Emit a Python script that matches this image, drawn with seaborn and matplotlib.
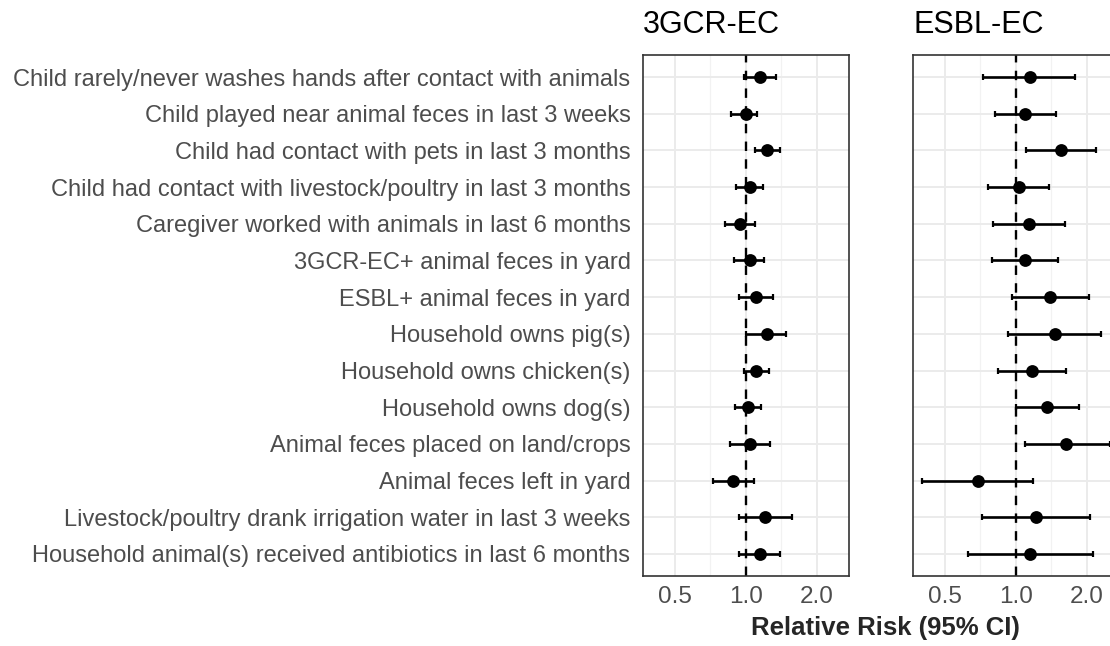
import numpy as np
import pandas as pd
import seaborn as sns
import matplotlib.pyplot as plt
from matplotlib.ticker import FixedLocator, NullFormatter

# exposures, top to bottom
labels = [
    "Child rarely/never washes hands after contact with animals",
    "Child played near animal feces in last 3 weeks",
    "Child had contact with pets in last 3 months",
    "Child had contact with livestock/poultry in last 3 months",
    "Caregiver worked with animals in last 6 months",
    "3GCR-EC+ animal feces in yard",
    "ESBL+ animal feces in yard",
    "Household owns pig(s)",
    "Household owns chicken(s)",
    "Household owns dog(s)",
    "Animal feces placed on land/crops",
    "Animal feces left in yard",
    "Livestock/poultry drank irrigation water in last 3 weeks",
    "Household animal(s) received antibiotics in last 6 months",
]

# 3GCR-EC relative risks and 95% CI
rr_3gcr = [1.15, 1.00, 1.23, 1.04, 0.95, 1.04, 1.11, 1.23, 1.11, 1.02, 1.04, 0.88, 1.21, 1.15]
lo_3gcr = [0.98, 0.87, 1.09, 0.91, 0.82, 0.89, 0.94, 1.00, 0.98, 0.90, 0.86, 0.73, 0.94, 0.94]
hi_3gcr = [1.35, 1.12, 1.40, 1.18, 1.10, 1.20, 1.31, 1.48, 1.25, 1.16, 1.27, 1.08, 1.57, 1.40]

# ESBL-EC relative risks and 95% CI
rr_esbl = [1.15, 1.10, 1.55, 1.03, 1.14, 1.10, 1.40, 1.47, 1.17, 1.36, 1.64, 0.69, 1.22, 1.15]
lo_esbl = [0.73, 0.82, 1.11, 0.76, 0.80, 0.79, 0.96, 0.93, 0.84, 1.00, 1.09, 0.40, 0.72, 0.63]
hi_esbl = [1.79, 1.48, 2.19, 1.39, 1.61, 1.51, 2.05, 2.30, 1.63, 1.86, 2.50, 1.18, 2.07, 2.13]

panels = ["3GCR-EC", "ESBL-EC"]
ticks = [0.5, 1.0, 2.0]
tick_labels = ["0.5", "1.0", "2.0"]

df = pd.DataFrame({
    "label": labels * 2,
    "pos": list(range(len(labels))) * 2,
    "rr": rr_3gcr + rr_esbl,
    "lo": lo_3gcr + lo_esbl,
    "hi": hi_3gcr + hi_esbl,
    "outcome": [panels[0]] * len(labels) + [panels[1]] * len(labels),
})

sns.set_style("white")
plt.rcParams["font.family"] = ["Liberation Sans", "DejaVu Sans"]

fig = plt.figure(figsize=(11.1, 6.46), dpi=100)
lefts = [643 / 1110, 913 / 1110]
axes = [fig.add_axes([l, 70 / 646, 206 / 1110, 521 / 646]) for l in lefts]

for i, (ax, name) in enumerate(zip(axes, panels)):
    d = df[df["outcome"] == name]
    ax.set_xscale("log")
    ax.set_xlim(0.367, 2.74)
    ax.set_ylim(len(labels) - 0.4, -0.6)

    # grid like ggplot theme_light
    ax.xaxis.set_major_locator(FixedLocator(ticks))
    ax.xaxis.set_minor_locator(FixedLocator([2 ** -0.5, 2 ** 0.5]))
    ax.xaxis.set_minor_formatter(NullFormatter())
    ax.grid(True, which="major", color="#ebebeb", lw=1.4, zorder=0)
    ax.grid(True, which="minor", axis="x", color="#f2f2f2", lw=0.9, zorder=0)
    ax.set_axisbelow(True)

    ax.axvline(1.0, color="black", ls=(0, (4, 3.5)), lw=1.7, zorder=1)
    ax.errorbar(d["rr"], d["pos"], xerr=[d["rr"] - d["lo"], d["hi"] - d["rr"]],
                fmt="none", ecolor="black", elinewidth=1.9, capsize=2.5, capthick=1.6, zorder=2)
    sns.scatterplot(data=d, x="rr", y="pos", ax=ax, color="black", s=85,
                    edgecolor="black", linewidth=0, zorder=3, legend=False)

    ax.set_xticks(ticks)
    ax.set_xticklabels(tick_labels, fontsize=17.5, color="#4d4d4d")
    ax.tick_params(axis="x", length=0, pad=7)
    ax.set_yticks(range(len(labels)))
    if i == 0:
        ax.set_yticklabels(labels, fontsize=17, color="#4d4d4d")
        ax.tick_params(axis="y", length=0, pad=9)
    else:
        ax.set_yticklabels([])
        ax.tick_params(axis="y", length=0)
    ax.set_xlabel("")
    ax.set_ylabel("")
    for sp in ax.spines.values():
        sp.set_color("#333333")
        sp.set_linewidth(1.2)
    ax.set_title(name, loc="left", fontsize=22, pad=16, color="black")

fig.text(885 / 1110, 1 - 628 / 646, "Relative Risk (95% CI)", ha="center", va="center",
         fontsize=18.5, fontweight="bold")

fig.savefig("out.png", dpi=100)
